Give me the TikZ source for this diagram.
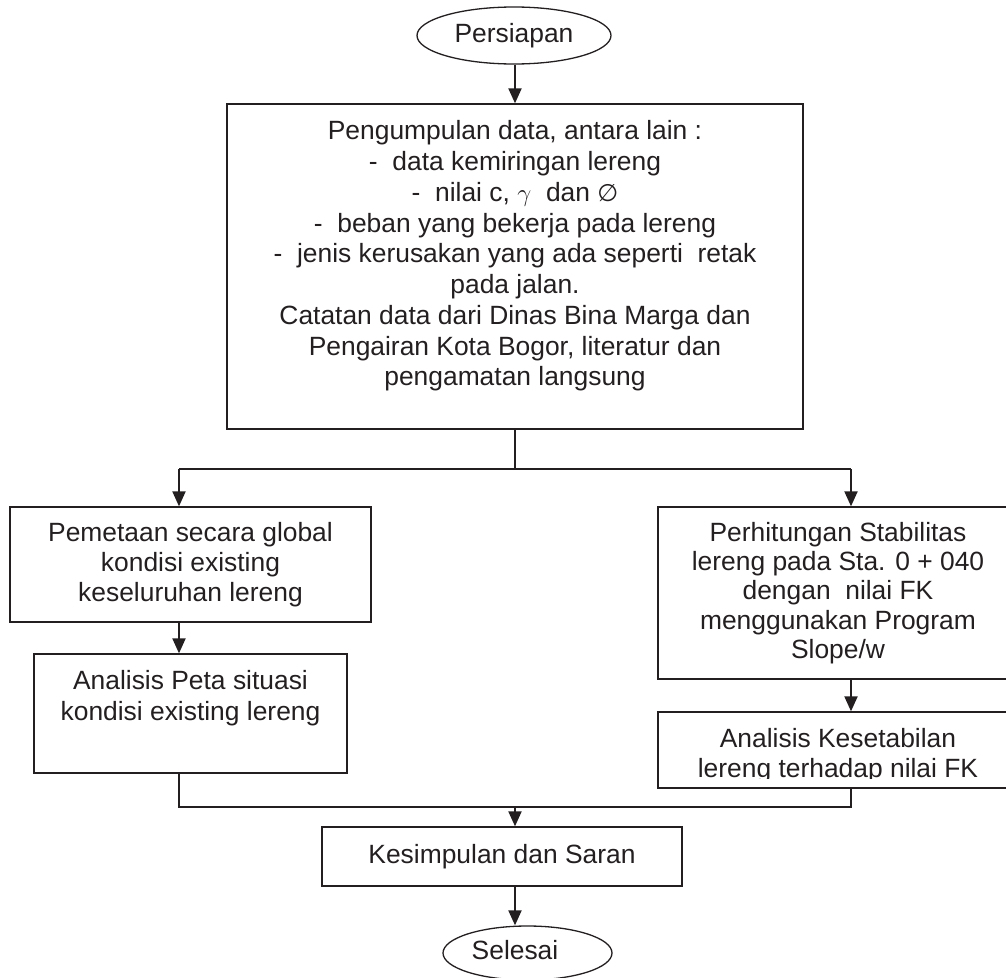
\documentclass[tikz,border=0pt]{standalone}
\usepackage{fontspec}
\setmainfont{Liberation Sans}
\newfontfamily\emptyfont{DejaVu Sans}
\usetikzlibrary{arrows.meta,shapes.geometric}
\definecolor{ink}{HTML}{231F20}

\begin{document}
\begin{tikzpicture}[x=1pt, y=-1pt, color=ink,
        box/.style={draw, line width=1.3pt, inner sep=0pt},
        oval/.style={draw, ellipse, line width=1.3pt, inner sep=0pt},
        txt/.style={align=center, inner sep=0pt, font=\fontsize{26.4}{30}\selectfont},
        link/.style={line width=1.5pt},
        flow/.style={line width=2pt, -{Triangle[length=15pt, width=13pt]}}]
            \useasboundingbox (0, 0) rectangle (1006, 977);

            \node [oval, txt, minimum width=194pt, minimum height=57pt] (persiapan) at (514, 35.5) {Persiapan};

            \node [box, minimum width=576pt, minimum height=325pt] (data) at (515, 266.5) {};
            \node [txt, font=\fontsize{26.4}{30.75}\selectfont] (datatext) at (515, 256)
                {Pengumpulan data, antara lain :\\
                 -~ data kemiringan lereng\\
                 -~ nilai c, $\gamma$~ dan {\emptyfont\fontsize{24}{30}\selectfont ∅}\\
                 -~ beban yang bekerja pada lereng\\
                 -~ jenis kerusakan yang ada seperti~ retak\\
                 pada jalan.\\
                 Catatan data dari Dinas Bina Marga dan\\
                 Pengairan Kota Bogor, literatur dan\\
                 pengamatan langsung};

            \node [box, txt, minimum width=361pt, minimum height=115pt] (pemetaan) at (190.5, 564.5)
                {Pemetaan secara global\\ kondisi existing\\ keseluruhan lereng};
            \node [box, minimum width=313pt, minimum height=119pt] (peta) at (190.5, 713.5) {};
            \node [txt, font=\fontsize{26.4}{31}\selectfont] (petatext) at (190.5, 698.6)
                {Analisis Peta situasi\\ kondisi existing lereng};

            \node [box, txt, font=\fontsize{26.4}{29.4}\selectfont, minimum width=360pt, minimum height=172pt] (stabilitas) at (838, 593)
                {Perhitungan Stabilitas\\ lereng pada Sta. 0 + 040\\ dengan~ nilai FK\\ menggunakan Program\\ Slope/w};
            \node [box, minimum width=360pt, minimum height=76pt] (fk) at (838, 750) {};
            \begin{scope}
                \clip (658, 712) rectangle (1018, 778.5);
                \node [txt, font=\fontsize{26.4}{29.3}\selectfont] (fktext) at (838, 755.75)
                    {Analisis Kesetabilan\\ lereng terhadap nilai FK};
            \end{scope}

            \node [box, txt, minimum width=360pt, minimum height=59pt] (kesimpulan) at (502, 856.5) {Kesimpulan dan Saran};

            \node [oval, minimum width=169pt, minimum height=54pt] (selesai) at (527.5, 953) {};
            \node [txt] (selesaitext) at (515, 950.5) {Selesai};

            \coordinate (split) at (515, 469);
            \coordinate (lcol) at (179, 469);
            \coordinate (rcol) at (851, 469);
            \coordinate (merge) at (515, 807);

            \draw [flow] (split |- persiapan.south) -- (split |- data.north);
            \draw [link] (data.south) -- (split);
            \draw [link] (lcol) -- (rcol);
            \foreach \c/\b in {lcol/pemetaan, rcol/stabilitas}
                {
                    \draw [flow] (\c) -- (\c |- \b.north);
                }
            \draw [flow] (lcol |- pemetaan.south) -- (lcol |- peta.north);
            \draw [flow] (rcol |- stabilitas.south) -- (rcol |- fk.north);

            \draw [link] (lcol |- peta.south) |- (merge) -| (rcol |- fk.south);
            \draw [flow] (merge) -- (merge |- kesimpulan.north);
            \draw [flow] (merge |- kesimpulan.south) -- (merge |- selesai.north);
\end{tikzpicture}
\end{document}
